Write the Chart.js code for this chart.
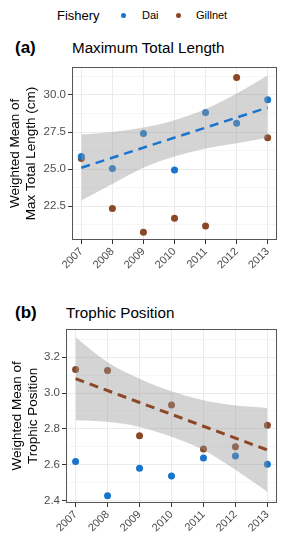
<!DOCTYPE html>
<html>
<head>
<meta charset="utf-8">
<script src="https://cdn.jsdelivr.net/npm/chart.js@4"></script>
<style>
    body { margin: 0; width: 293px; height: 550px; background: #fff; position: relative; font-family: 'Liberation Sans', Arial, sans-serif; overflow: hidden; }
    .abs { position: absolute; white-space: nowrap; }
    .panel { position: absolute; left: 0; width: 293px; }
    .tag { font-weight: bold; font-size: 17px; }
    .ttl { font-size: 15.2px; }
    .dot { position: absolute; width: 5px; height: 5px; border-radius: 50%; }
</style>
</head>
<body>
<div class="abs" style="left:57px; top:8px; font-size:13px;">Fishery</div>
<div class="dot" style="left:121px; top:13px; background:#1874cd;"></div>
<div class="abs" style="left:142px; top:9px; font-size:11px;">Dai</div>
<div class="dot" style="left:176px; top:13px; background:#8b4726;"></div>
<div class="abs" style="left:196px; top:9px; font-size:11px;">Gillnet</div>

<div class="abs tag" style="left:15px; top:38px;">(a)</div>
<div class="abs ttl" style="left:72px; top:39px;">Maximum Total Length</div>
<div class="panel" style="top:58px; height:215px;"><canvas id="length-chart"></canvas></div>

<div class="abs tag" style="left:15px; top:303px;">(b)</div>
<div class="abs ttl" style="left:66px; top:304px;">Trophic Position</div>
<div class="panel" style="top:320px; height:223px;"><canvas id="trophic-chart"></canvas></div>

<script>
const years = [2007, 2008, 2009, 2010, 2011, 2012, 2013];
const trendYears = [2007, 2013];

// (a) maximum total length
const daiLength = [25.85, 25.05, 27.4, 24.95, 28.82, 28.1, 29.67];
const gillnetLength = [25.72, 22.35, 20.75, 21.7, 21.18, 31.17, 27.11];
const lengthTrend = [25.1, 29.15];
const lengthUpper = [27.33, 27.5, 27.8, 28.3, 29.05, 30.1, 31.33];
const lengthLower = [22.89, 24.0, 25.1, 25.85, 26.4, 26.75, 27.11];
const lengthTicks = [22.5, 25, 27.5, 30];
const lengthMinor = [21.25, 23.75, 26.25, 28.75, 31.25];

// (b) trophic position
const daiTrophic = [2.617, 2.426, 2.58, 2.537, 2.637, 2.648, 2.602];
const gillnetTrophic = [3.132, 3.126, 2.761, 2.933, 2.687, 2.70, 2.82];
const trophicTrend = [3.08, 2.682];
const trophicUpper = [3.311, 3.172, 3.08, 3.01, 2.96, 2.93, 2.917];
const trophicLower = [2.848, 2.839, 2.811, 2.756, 2.682, 2.571, 2.447];
const trophicTicks = [2.4, 2.6, 2.8, 3.0, 3.2];
const trophicMinor = [2.5, 2.7, 2.9, 3.1, 3.3];

const DAI = '#1874cd';
const GILLNET = '#8b4726';
const FONT = 'Liberation Sans';

const pts = (xs, ys) => xs.map((x, i) => ({ x, y: ys[i] }));

const borderBox = {
    id: 'borderBox',
    afterDraw(chart) {
        const { ctx, chartArea: a } = chart;
        ctx.save();
        ctx.strokeStyle = '#555';
        ctx.lineWidth = 1;
        ctx.strokeRect(Math.round(a.left) + 0.5, Math.round(a.top) + 0.5,
            Math.round(a.right - a.left) - 1, Math.round(a.bottom - a.top) - 1);
        ctx.restore();
    }
};

function makePanel(id, p) {
    const isMajor = v => p.ticks.includes(v);
    new Chart(document.getElementById(id), {
        type: 'scatter',
        data: {
            datasets: [
                { type: 'line', data: pts(trendYears, p.trend), borderColor: p.trendColor, borderWidth: p.trendWidth,
                  borderDash: [9, 6], pointRadius: 0, fill: false, order: 0 },
                { type: 'line', data: pts(years, p.lower), borderWidth: 0, pointRadius: 0, fill: false,
                  tension: 0.4, cubicInterpolationMode: 'monotone', order: 2 },
                { type: 'line', data: pts(years, p.upper), borderWidth: 0, pointRadius: 0,
                  fill: '-1', backgroundColor: 'rgba(153,153,153,0.42)',
                  tension: 0.4, cubicInterpolationMode: 'monotone', order: 1 },
                { data: pts(years, p.dai), backgroundColor: DAI, borderWidth: 0, pointRadius: 3.5, order: 3 },
                { data: pts(years, p.gillnet), backgroundColor: GILLNET, borderWidth: 0, pointRadius: 3.5, order: 4 }
            ]
        },
        options: {
            responsive: true,
            maintainAspectRatio: false,
            animation: false,
            layout: { padding: { top: p.padTop, right: 16, left: 0, bottom: 0 } },
            plugins: { legend: { display: false }, tooltip: { enabled: false } },
            scales: {
                x: {
                    type: 'linear', min: 2006.7, max: 2013.3,
                    afterBuildTicks: s => { s.ticks = years.map(v => ({ value: v })); },
                    afterFit: s => { s.height = p.xHeight; },
                    grid: { color: '#ebebeb', tickColor: '#333', tickLength: 4 },
                    border: { display: false },
                    ticks: { color: '#4d4d4d', font: { family: FONT, size: 11 }, minRotation: 45, maxRotation: 45,
                             padding: 1, callback: v => String(v) }
                },
                y: {
                    min: p.min, max: p.max,
                    afterBuildTicks: s => {
                        s.ticks = p.ticks.concat(p.minor).sort((a, b) => a - b).map(v => ({ value: v }));
                    },
                    afterFit: s => { s.width = p.yWidth; },
                    grid: {
                        color: c => (c.tick && isMajor(c.tick.value)) ? '#ebebeb' : '#f6f6f6',
                        tickColor: c => (c.tick && isMajor(c.tick.value)) ? '#333' : 'rgba(0,0,0,0)',
                        tickLength: 4
                    },
                    border: { display: false },
                    ticks: { color: '#4d4d4d', font: { family: FONT, size: 11.5 }, padding: 2,
                             callback: v => isMajor(v) ? v.toFixed(1) : '' },
                    title: { display: true, text: p.title, color: '#000', font: { family: FONT, size: 13.5 },
                             padding: { top: p.titlePad, bottom: 0 } }
                }
            }
        },
        plugins: [borderBox]
    });
}

makePanel('length-chart', {
    dai: daiLength, gillnet: gillnetLength, trend: lengthTrend, upper: lengthUpper, lower: lengthLower,
    trendColor: DAI, trendWidth: 2.5, ticks: lengthTicks, minor: lengthMinor, min: 20.23, max: 31.89,
    padTop: 7, xHeight: 33, yWidth: 72, titlePad: 7,
    title: ['Weighted Mean of', 'Max Total Length (cm)']
});

makePanel('trophic-chart', {
    dai: daiTrophic, gillnet: gillnetTrophic, trend: trophicTrend, upper: trophicUpper, lower: trophicLower,
    trendColor: GILLNET, trendWidth: 3, ticks: trophicTicks, minor: trophicMinor, min: 2.386, max: 3.358,
    padTop: 8, xHeight: 40, yWidth: 66, titlePad: 9,
    title: ['Weighted Mean of', 'Trophic Position']
});
</script>
</body>
</html>
